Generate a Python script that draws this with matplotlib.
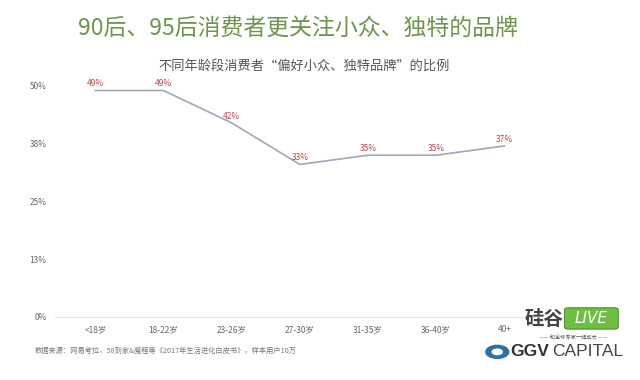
import matplotlib.pyplot as plt
from matplotlib.patches import FancyBboxPatch, Circle

plt.rcParams['font.family'] = ['Noto Sans CJK SC', 'DejaVu Sans']

categories = ['<18岁', '18-22岁', '23-26岁', '27-30岁', '31-35岁', '36-40岁', '40+']
values = [49, 49, 42, 33, 35, 35, 37]
value_labels = ['49%', '49%', '42%', '33%', '35%', '35%', '37%']
y_ticks = [0, 12.5, 25, 37.5, 50]
y_tick_labels = ['0%', '13%', '25%', '38%', '50%']

title = '90后、95后消费者更关注小众、独特的品牌'
subtitle = '不同年龄段消费者“偏好小众、独特品牌”的比例'
source = '数据来源：网易考拉，58到家&魔程等《2017年生活进化白皮书》，样本用户10万'

fig = plt.figure(figsize=(6.4, 3.8), dpi=100)
ax = fig.add_axes([0.086, 0.166, 0.75, 0.608])

x = range(len(categories))
ax.plot(x, values, color='#a3a6b8', lw=1.2)
for xi, v, lab in zip(x, values, value_labels):
    ax.annotate(lab, (xi, v), xytext=(0, 1.5), textcoords='offset points',
                ha='center', va='bottom', fontsize=6, color='#b5474a')

ax.set_xlim(-0.59, 6.45)
ax.set_ylim(0, 50)
ax.set_xticks(list(x))
ax.set_xticklabels(categories, fontsize=6, color='#666666')
ax.set_yticks(y_ticks)
ax.set_yticklabels(y_tick_labels, fontsize=6, color='#666666')
ax.tick_params(length=0, pad=6)
for s in ['top', 'right', 'left']:
    ax.spines[s].set_visible(False)
ax.spines['bottom'].set_color('#e6e6e6')
ax.spines['bottom'].set_linewidth(0.8)

fig.text(0.466, 0.925, title, ha='center', va='center', fontsize=16.5,
         color='#6e9450')
fig.text(0.475, 0.826, subtitle, ha='center', va='center', fontsize=9.5,
         color='#555555')
fig.text(0.055, 0.078, source, ha='left', va='center', fontsize=5.2,
         color='#777777')

# logos
fig.text(0.82, 0.16, '硅谷', ha='left', va='center', fontsize=14,
         color='#444444', fontweight='bold', style='italic')
box = FancyBboxPatch((0.888, 0.14), 0.072, 0.044, boxstyle='round,pad=0.006',
                     transform=fig.transFigure, fc='#6fbf44', ec='#4a8f2a', lw=0.8)
fig.patches.append(box)
fig.text(0.924, 0.162, 'LIVE', ha='center', va='center', fontsize=11,
         color='white', style='italic', family='DejaVu Sans')
fig.text(0.895, 0.112, '—— 和全球专家一起成长 ——', ha='center', va='center',
         fontsize=3.8, color='#555555')
fig.patches.append(Circle((0.777, 0.074), 0.019, transform=fig.transFigure,
                          fc='#2f6fa8', ec='none'))
fig.patches.append(Circle((0.777, 0.074), 0.009, transform=fig.transFigure,
                          fc='white', ec='none'))
fig.text(0.797, 0.074, 'GGV', ha='left', va='center', fontsize=12.5,
         color='#333333', fontweight='bold', family='Liberation Sans')
fig.text(0.862, 0.074, 'CAPITAL', ha='left', va='center', fontsize=12.5,
         color='#444444', family='Liberation Sans')

fig.savefig('out.png', dpi=100, facecolor='white')
